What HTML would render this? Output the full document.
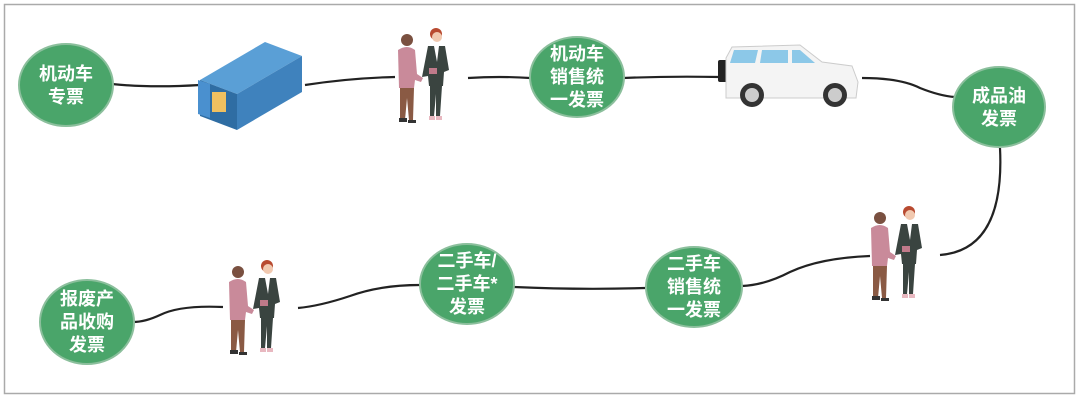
<!DOCTYPE html>
<html><head><meta charset="utf-8"><style>
html,body{margin:0;padding:0;background:#fff}
svg{display:block}
text{font-family:"Liberation Sans","Noto Sans CJK SC",sans-serif;font-weight:bold;fill:#fff;font-size:18px;text-anchor:middle}
</style></head><body>
<svg width="1080" height="400" viewBox="0 0 1080 400" xmlns="http://www.w3.org/2000/svg">
<defs>
<g id="pp">
 <circle cx="12" cy="10" r="6" fill="#7a5040"/>
 <path d="M3 20 Q12 14 20 20 L22 44 L28 48 L26 52 L20 50 L19 58 L4 58 Z" fill="#c98a9a"/>
 <path d="M5 58 L19 58 L18 90 L14 90 L12 68 L10 90 L5 88 Z" fill="#8a5a44"/>
 <rect x="4" y="88" width="8" height="4" fill="#333"/><rect x="13" y="90" width="8" height="3" fill="#333"/>
 <circle cx="41" cy="4" r="6" fill="#b84a30"/>
 <circle cx="42" cy="7" r="5" fill="#f1c9b0"/>
 <path d="M33 16 L50 16 L54 40 L49 42 L48 56 L34 56 L33 46 L27 47 Z" fill="#3a4440"/>
 <path d="M39 16 L44 16 L42 32 Z" fill="#fff"/>
 <rect x="34" y="38" width="8" height="6" fill="#c07a8a"/>
 <path d="M35 56 L47 56 L45 86 L41 86 L41 64 L39 86 L35 86 Z" fill="#3a4440"/>
 <rect x="34" y="86" width="6" height="4" fill="#e8b8c0"/><rect x="41" y="86" width="6" height="4" fill="#e8b8c0"/>
</g>
</defs>
<rect x="4.5" y="4.5" width="1070" height="389" fill="#fff" stroke="#aaa" stroke-width="1.5"/>
<g fill="none" stroke="#222" stroke-width="2.2">
 <path d="M112 84 Q150 88 200 85"/>
 <path d="M305 85 Q350 78 395 77"/>
 <path d="M468 78 Q500 76 530 78"/>
 <path d="M623 78 Q670 76 720 77"/>
 <path d="M862 78 Q900 78 920 88 Q940 96 955 97"/>
 <path d="M1000 148 Q1005 250 940 255"/>
 <path d="M870 256 Q820 258 790 272 Q765 285 742 286"/>
 <path d="M645 288 Q580 290 514 287"/>
 <path d="M420 285 Q380 285 350 296 Q320 306 298 308"/>
 <path d="M223 307 Q180 305 160 315 Q145 322 133 322"/>
</g>
<g>
 <polygon points="200,80 265,42 302,56 237,94" fill="#5a9fd6"/>
 <polygon points="237,94 302,56 302,92 237,130" fill="#3f82bd"/>
 <polygon points="200,80 237,94 237,130 200,116" fill="#2f6da3"/>
 <rect x="212" y="92" width="14" height="20" fill="#f0c060"/>
 <polygon points="198,80 210,84 210,118 198,114" fill="#4a90cf"/>
</g>
<use href="#pp" transform="translate(395,30)"/>
<use href="#pp" transform="translate(868,208)"/>
<use href="#pp" transform="translate(226,262)"/>
<g>
 <rect x="718" y="60" width="10" height="22" rx="2" fill="#222"/>
 <path d="M726 58 L732 47 L800 45 L822 62 L852 66 L858 82 L856 98 L726 98 Z" fill="#f4f4f4" stroke="#ccc"/>
 <polygon points="734,50 758,50 755,63 730,63" fill="#8cc8e8"/>
 <polygon points="762,50 788,50 788,63 760,63" fill="#8cc8e8"/>
 <polygon points="792,50 800,50 815,63 792,63" fill="#8cc8e8"/>
 <circle cx="752" cy="95" r="12" fill="#333"/><circle cx="752" cy="95" r="7" fill="#ccc"/>
 <circle cx="835" cy="95" r="12" fill="#333"/><circle cx="835" cy="95" r="7" fill="#ccc"/>
</g>
<g fill="#4aa56a" stroke="#8bbf9c" stroke-width="2">
 <ellipse cx="66" cy="85" rx="47" ry="41"/>
 <ellipse cx="577" cy="77" rx="47" ry="40"/>
 <ellipse cx="999" cy="107" rx="46" ry="40"/>
 <ellipse cx="694" cy="287" rx="48" ry="40"/>
 <ellipse cx="467" cy="284" rx="47" ry="40"/>
 <ellipse cx="87" cy="322" rx="47" ry="42"/>
</g>
<text x="66" y="80">机动车</text><text x="66" y="103">专票</text>
<text x="577" y="60">机动车</text><text x="577" y="83">销售统</text><text x="577" y="106">一发票</text>
<text x="999" y="102">成品油</text><text x="999" y="125">发票</text>
<text x="694" y="270">二手车</text><text x="694" y="293">销售统</text><text x="694" y="316">一发票</text>
<text x="467" y="267">二手车/</text><text x="467" y="290">二手车*</text><text x="467" y="313">发票</text>
<text x="87" y="305">报废产</text><text x="87" y="328">品收购</text><text x="87" y="351">发票</text>
</svg>
</body></html>
